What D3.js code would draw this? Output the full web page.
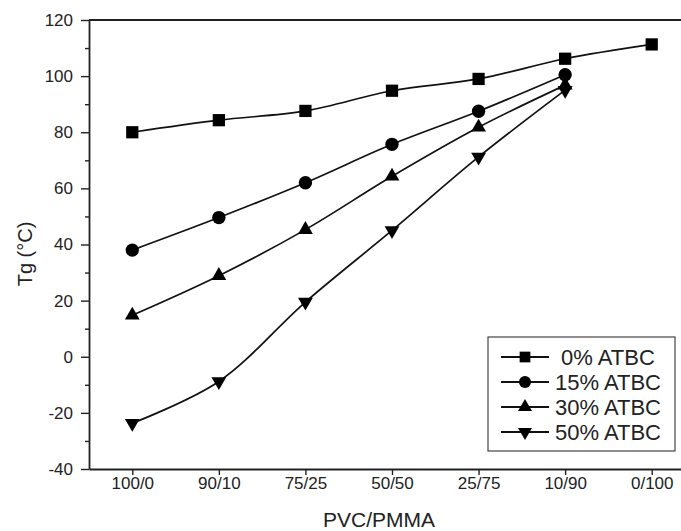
<!DOCTYPE html>
<html>
<head>
<meta charset="utf-8">
<script src="https://cdn.jsdelivr.net/npm/d3@7"></script>
<style>
  body { margin: 0; background: #fff; }
  text { font-family: Arial, "Liberation Sans", sans-serif; fill: #222; }
</style>
</head>
<body>
<div id="container"></div>
<script>
// Tg vs PVC/PMMA ratio for several ATBC contents

const categories = ["100/0", "90/10", "75/25", "50/50", "25/75", "10/90", "0/100"]
const seriesNames = ["\u00a00% ATBC", "15% ATBC", "30% ATBC", "50% ATBC"]
const atbc0 = [80, 84.3, 87.6, 94.8, 99, 106.2, 111.3]
const atbc15 = [38, 49.6, 62, 75.7, 87.5, 100.5]
const atbc30 = [14.8, 28.9, 45.3, 64.3, 81.8, 96.8]
const atbc50 = [-23.7, -8.8, 19.5, 45, 71.2, 95]
const yTicks = [-40, -20, 0, 20, 40, 60, 80, 100, 120]
const yMinorTicks = [-30, -10, 10, 30, 50, 70, 90, 110]

const width = 681,
    height = 531
const padding = { top: 20, right: -14, bottom: 62, left: 89 }

const svg = d3.select("#container").append("svg")
    .attr("width", width)
    .attr("height", height)

const x = d3.scalePoint()
    .domain(categories)
    .range([padding.left, width - padding.right])
    .padding(0.5)

const y = d3.scaleLinear()
    .domain([-40, 120])
    .range([height - padding.bottom, padding.top])

// top frame line
svg.append("line")
    .attr("x1", padding.left).attr("x2", width)
    .attr("y1", y(120)).attr("y2", y(120))
    .attr("stroke", "#222").attr("stroke-width", 1.8)

// x axis
const xAxis = svg.append("g")
    .attr("transform", `translate(0,${y(-40)})`)
    .call(d3.axisBottom(x).tickSize(6).tickSizeOuter(0).tickPadding(2))
xAxis.selectAll("text").style("font-size", "17px").attr("fill", "#222")
xAxis.selectAll("line").attr("stroke", "#222").attr("stroke-width", 1.4)
xAxis.select(".domain").attr("stroke", "#222").attr("stroke-width", 1.8)

// y axis, major and minor ticks
const yAxis = svg.append("g")
    .attr("transform", `translate(${padding.left},0)`)
    .call(d3.axisLeft(y).tickValues(yTicks).tickSize(8).tickSizeOuter(0).tickPadding(8)
        .tickFormat(d => String(d)))
yAxis.selectAll("text").style("font-size", "17px").attr("fill", "#222")
yAxis.selectAll("line").attr("stroke", "#222").attr("stroke-width", 1.4)
yAxis.select(".domain").attr("stroke", "#222").attr("stroke-width", 1.8)

svg.append("g")
    .attr("transform", `translate(${padding.left},0)`)
    .call(d3.axisLeft(y).tickValues(yMinorTicks).tickSize(4).tickFormat(""))
    .call(g => g.select(".domain").remove())
    .selectAll("line").attr("stroke", "#222").attr("stroke-width", 1.4)

// axis titles
svg.append("text")
    .attr("x", 379).attr("y", 527)
    .attr("text-anchor", "middle")
    .style("font-size", "21px")
    .text("PVC/PMMA")

svg.append("text")
    .attr("transform", `translate(32,254) rotate(-90)`)
    .attr("text-anchor", "middle")
    .style("font-size", "20px")
    .text("Tg (°C)")

const symbols = [
    d3.symbol().type(d3.symbolSquare).size(150),
    d3.symbol().type(d3.symbolCircle).size(140),
    d3.symbol().type(d3.symbolTriangle).size(95),
    d3.symbol().type(d3.symbolTriangle).size(95),
]
const rotations = [0, 0, 0, 180]
const allSeries = [atbc0, atbc15, atbc30, atbc50]

const line = d3.line()
    .x((d, i) => x(categories[i]))
    .y(d => y(d))
    .curve(d3.curveCatmullRom.alpha(0.5))

allSeries.forEach((values, s) => {
    svg.append("path")
        .datum(values)
        .attr("d", line)
        .attr("fill", "none")
        .attr("stroke", "#111")
        .attr("stroke-width", 1.7)

    svg.append("g").selectAll("path")
        .data(values)
        .enter()
        .append("path")
        .attr("d", symbols[s])
        .attr("transform", (d, i) => `translate(${x(categories[i])},${y(d)}) rotate(${rotations[s]})`)
        .attr("fill", "#000")
})

// legend
const legend = svg.append("g").attr("id", "legend")
legend.append("rect")
    .attr("x", 488).attr("y", 337)
    .attr("width", 187).attr("height", 114)
    .attr("fill", "#fff")
    .attr("stroke", "#444")
    .attr("stroke-width", 1.2)

const rows = legend.selectAll("g.row")
    .data(seriesNames)
    .enter()
    .append("g")
    .attr("class", "row")
    .attr("transform", (d, i) => `translate(0,${357 + i * 25})`)

rows.append("line")
    .attr("x1", 501).attr("x2", 549)
    .attr("stroke", "#111").attr("stroke-width", 1.8)

rows.append("path")
    .attr("d", (d, i) => symbols[i].size(i < 2 ? 115 : 85)())
    .attr("transform", (d, i) => `translate(525,0) rotate(${rotations[i]})`)
    .attr("fill", "#000")

rows.append("text")
    .attr("x", 555)
    .attr("dy", "0.36em")
    .style("font-size", "22px")
    .text(d => d)
</script>
</body>
</html>
